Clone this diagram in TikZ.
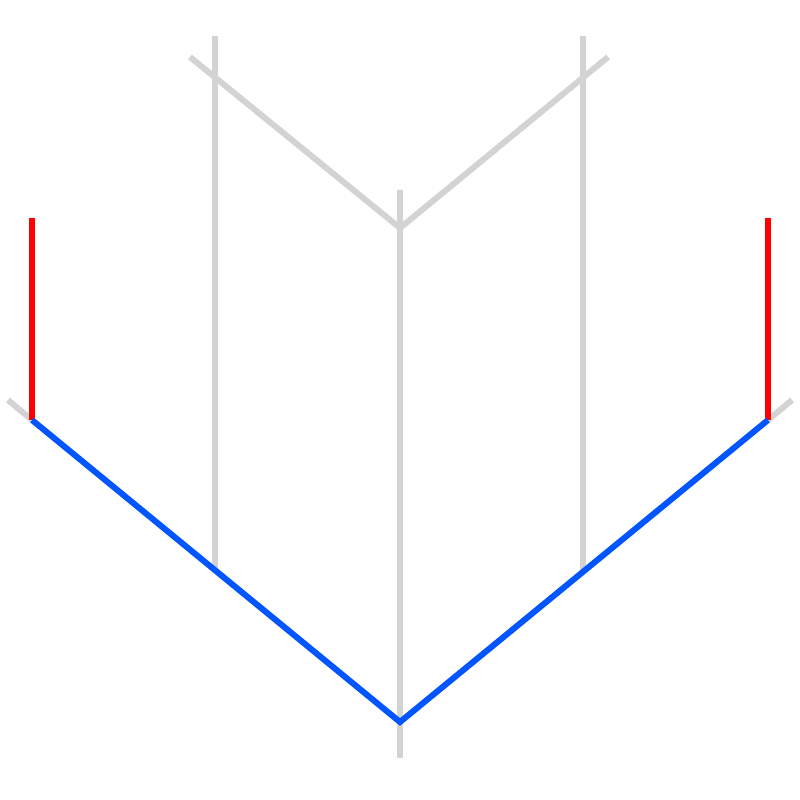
\documentclass[tikz,border=0pt]{standalone}
\begin{document}
\begin{tikzpicture}[x=1pt,y=-1pt,
  gline/.style={draw={rgb,255:red,211;green,211;blue,211},line width=6pt},
  bline/.style={draw={rgb,255:red,0;green,85;blue,255},line width=6pt,line join=miter},
  rline/.style={draw=red,line width=6pt}]
\useasboundingbox (0,0) rectangle (800,800);
\coordinate (L) at (32,420);
\coordinate (R) at (768,420);
\coordinate (B) at (400,722);
\coordinate (M) at (400,228);
\draw[gline] (215,36) -- (215,570);
\draw[gline] (583,36) -- (583,570);
\draw[gline] (400,190) -- (400,758);
\draw[gline] (190,57) -- (M) -- (608,57);
\draw[gline] (8,400) -- (L);
\draw[gline] (792,400) -- (R);
\draw[rline] (32,218) -- (L);
\draw[rline] (768,218) -- (R);
\draw[bline] (L) -- (B) -- (R);
\end{tikzpicture}
\end{document}
